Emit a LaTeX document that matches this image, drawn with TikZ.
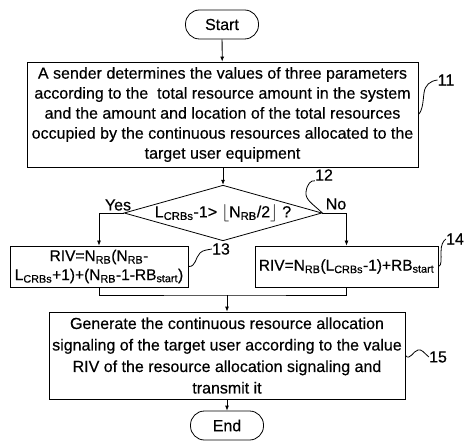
\documentclass[tikz,border=0pt]{standalone}
\usepackage{fontspec}
\setmainfont[FakeBold=0.4]{Liberation Sans}
\usetikzlibrary{shapes.geometric,arrows.meta}
\newcommand\lowsub[1]{\textsubscript{#1}}

\begin{document}
\begin{tikzpicture}[x=1pt,y=-1pt,
  every node/.style={font=\fontsize{16}{20}\selectfont},
  box/.style={draw, line width=0.8pt, align=center, inner sep=0pt},
  term/.style={draw, line width=0.8pt, rounded corners=14pt, inner sep=0pt,
    minimum width=73pt, minimum height=29pt},
  decision/.style={draw, line width=0.8pt, diamond, aspect=3.56, inner sep=0pt,
    minimum width=178pt, minimum height=50pt},
  flow/.style={line width=0.8pt, -{Latex[length=5pt,width=4pt]}},
  plain/.style={line width=0.8pt},
  lead/.style={line width=0.8pt},
  tag/.style={inner sep=0pt}
]
\useasboundingbox (0,0) rectangle (465,443);

% process steps
\node[term] (start) at (222,24.5) {Start};
\node[box, minimum width=391pt, minimum height=105pt] (b11) at (222.5,114.5)
  {A sender determines the values of three parameters\\
   according to the\ \ total resource amount in the system\\
   and the amount and location of the total resources\\
   occupied by the continuous resources allocated to the\\
   target user equipment};
\node[decision] (d) at (223,213)
  {L\lowsub{CRBs}-1> $\bigl\lfloor$N\lowsub{RB}/2$\bigr\rfloor$ ?};
\node[box, minimum width=178pt, minimum height=41pt,
      font=\fontsize{15.5}{19}\selectfont] (b13) at (99,266.5)
  {RIV=N\lowsub{RB}(N\lowsub{RB}-\\
   L\lowsub{CRBs}+1)+(N\lowsub{RB}-1-RB\lowsub{start})};
\node[box, minimum width=183pt, minimum height=41pt,
      font=\fontsize{15.5}{19}\selectfont] (b14) at (346.5,266.5)
  {RIV=N\lowsub{RB}(L\lowsub{CRBs}-1)+RB\lowsub{start}};
\node[box, minimum width=356pt, minimum height=87pt,
      font=\fontsize{16}{21.5}\selectfont] (b15) at (227,355.5)
  {Generate the continuous resource allocation\\
   signaling of the target user according to the value\\
   RIV of the resource allocation signaling and\\
   transmit it};
\node[term] (end) at (227,425.5) {End};
\coordinate (m) at (227,295);

% branch labels
\node (yes) at (118,205) {Yes};
\node (no) at (336,204) {No};

% connectors
\draw[flow] (start) -- (b11);
\draw[flow] (b11.south -| d.north) -- (d.north);
\draw[flow] (d.west) -| (b13.north);
\draw[flow] (d.east) -| (b14.north);
\draw[plain] (b13.south) |- (m) -| (b14.south);
\draw[flow] (m) -- (b15.north);
\draw[flow] (b15) -- (end);

% reference numerals
\node[tag] (t11) at (446,80) {11};
\node[tag] (t12) at (324,175) {12};
\node[tag] (t13) at (221,249) {13};
\node[tag] (t14) at (455,239) {14};
\node[tag] (t15) at (438,357) {15};

\draw[lead] (b11.east) .. controls (423,110) and (423,100) .. (424,93)
  .. controls (425,85) and (430,81) .. (t11.west);
\draw[lead] (d.east) .. controls (313,204) and (305,200) .. (306,192)
  .. controls (307,184) and (311,180) .. (t12.south west);
\draw[lead] (b13.east) .. controls (196,267) and (195,258) .. (200,253)
  .. controls (203,250) and (207,250) .. (t13.west);
\draw[lead] (b14.east) .. controls (442,266) and (441,258) .. (441,252)
  .. controls (441,245) and (443,241) .. (t14.west);
\draw[lead] (b15.east) .. controls (410,361) and (413,351) .. (418,350)
  .. controls (422,349) and (424,353) .. (t15.west);
\end{tikzpicture}
\end{document}
